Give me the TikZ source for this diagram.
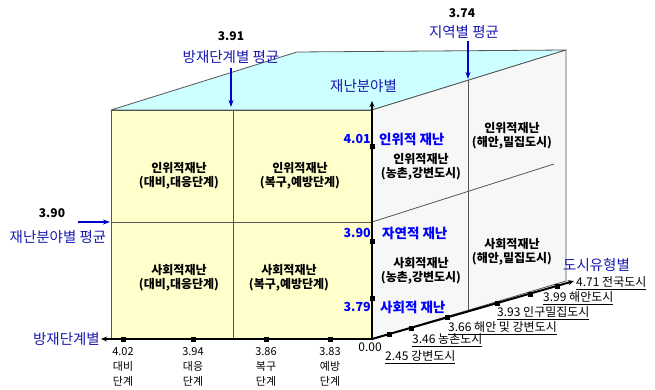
\documentclass[tikz,border=0pt]{standalone}
\usepackage{fontspec}
\setmainfont{Noto Sans CJK KR}
\usetikzlibrary{arrows.meta}
\definecolor{faceY}{HTML}{FFFFCC}
\definecolor{faceC}{HTML}{CCFFFF}
\definecolor{faceG}{HTML}{F7F7F7}
\definecolor{lblue}{HTML}{1A1AB0}
\definecolor{vblue}{HTML}{0000FF}
\definecolor{ablue}{HTML}{0000CC}
\definecolor{edgec}{HTML}{555555}
\tikzset{
  x=1pt, y=-1pt,
  face/.style={draw=edgec, line width=0.8pt, line join=round},
  grid/.style={draw=edgec, line width=0.8pt},
  axisline/.style={draw=black, line width=2pt, -{Stealth[length=6pt,width=5pt]}},
  avgarrow/.style={draw=ablue, line width=2pt, -{Stealth[length=7pt,width=5pt]}},
  marker/.style={fill=black, minimum size=5pt, inner sep=0pt, outer sep=0pt, rectangle},
  cell/.style={font=\bfseries\fontsize{12}{13.5}\selectfont, align=center, inner sep=0pt},
  bluetitle/.style={font=\fontsize{14.5}{16}\selectfont, text=lblue, inner sep=0pt},
  avgnum/.style={font=\bfseries\fontsize{12}{14}\selectfont, inner sep=0pt},
  fieldnum/.style={font=\bfseries\fontsize{12.5}{14}\selectfont, text=vblue, inner sep=0pt, anchor=east},
  fieldlbl/.style={font=\bfseries\fontsize{13.5}{15}\selectfont, text=vblue, inner sep=0pt, anchor=west},
  stagelbl/.style={font=\fontsize{11}{15}\selectfont, align=center, inner sep=0pt, anchor=north},
  citylbl/.style={font=\fontsize{12}{13}\selectfont, inner sep=0pt, anchor=west},
}
\begin{document}
\begin{tikzpicture}
\useasboundingbox (0,0) rectangle (655,390);
% corners
\coordinate (FTL) at (111,110);
\coordinate (FTR) at (372,110);
\coordinate (FBL) at (111,339);
\coordinate (FBR) at (372,339);
\coordinate (BTL) at (297,52);
\coordinate (BTR) at (566,50);
\coordinate (BBR) at (566,281);
% faces
\draw[face, fill=faceC] (FTL) -- (BTL) -- (BTR) -- (FTR) -- cycle;
\draw[face, fill=faceG] (FTR) -- (BTR) -- (BBR) -- (FBR) -- cycle;
\draw[face, fill=faceY] (FTL) rectangle (FBR);
% front grid
\coordinate (FMT) at (233,110);
\coordinate (FMB) at (233,339);
\coordinate (FML) at (111,222);
\coordinate (FMR) at (372,222);
\draw[grid] (FMT) -- (FMB);
\draw[grid] (FML) -- (FMR);
% right grid
\coordinate (RMT) at (468,80);
\coordinate (RMB) at (468,311);
\coordinate (RDE) at (554,164);
\draw[grid] (RMT) -- (RMB);
\draw[grid] (FMR) -- (RDE);
% axes
\coordinate (AXL) at (101,339);
\coordinate (AXU) at (372,101);
\coordinate (AXR) at (574,281);
\draw[axisline] (FBR) -- (AXL);
\draw[axisline] (FBR) -- (AXU);
\draw[axisline] (FBR) -- (AXR);
% bottom markers
\node[marker] (m1) at (123,339) {};
\node[marker] (m2) at (193,339) {};
\node[marker] (m3) at (266,339) {};
\node[marker] (m4) at (330,339) {};
% vertical markers
\node[marker] (v1) at (372,147) {};
\node[marker] (v2) at (372,241) {};
\node[marker] (v3) at (372,298) {};
% right markers
\node[marker] (r1) at (389,334.4) {};
\node[marker] (r2) at (411,328.1) {};
\node[marker] (r3) at (447,317.8) {};
\node[marker] (r4) at (497,303.5) {};
\node[marker] (r5) at (530,294.0) {};
\node[marker] (r6) at (557,286.3) {};
% front cell texts
\node[cell] (c1) at (179,176) {인위적재난\\(대비,대응단계)};
\node[cell] (c2) at (300,176) {인위적재난\\(복구,예방단계)};
\node[cell] (c3) at (179,278) {사회적재난\\(대비,대응단계)};
\node[cell] (c4) at (289,278) {사회적재난\\(복구,예방단계)};
% right cell texts
\node[cell] (c5) at (512,136) {인위적재난\\(해안,밀집도시)};
\node[cell] (c6) at (421,167) {인위적재난\\(농촌,강변도시)};
\node[cell] (c7) at (512,252) {사회적재난\\(해안,밀집도시)};
\node[cell] (c8) at (421,271) {사회적재난\\(농촌,강변도시)};
% averages
\node[avgnum] (n391) at (231,36) {3.91};
\node[bluetitle] (t391) at (231,57) {방재단계별 평균};
\coordinate (a391s) at (231,68);
\coordinate (a391e) at (231,107);
\draw[avgarrow] (a391s) -- (a391e);
\node[avgnum] (n374) at (462,13) {3.74};
\node[bluetitle] (t374) at (464,32) {지역별 평균};
\coordinate (a374s) at (468,41);
\coordinate (a374e) at (468,79);
\draw[avgarrow] (a374s) -- (a374e);
\node[avgnum] (n390) at (52,213) {3.90};
\node[bluetitle] (t390) at (58,237) {재난분야별 평균};
\coordinate (a390s) at (78,222);
\coordinate (a390e) at (110,222);
\draw[avgarrow] (a390s) -- (a390e);
% axis titles
\node[bluetitle, anchor=east] (ax1) at (100,339) {방재단계별};
\node[bluetitle, anchor=west] (ax2) at (330,86) {재난분야별};
\node[bluetitle, anchor=west] (ax3) at (563,265) {도시유형별};
% field labels
\node[fieldnum] (f1n) at (371,139) {4.01};
\node[fieldlbl] (f1t) at (379,139) {인위적 재난};
\node[fieldnum] (f2n) at (371,233) {3.90};
\node[fieldlbl] (f2t) at (382,233) {자연적 재난};
\node[fieldnum] (f3n) at (371,307) {3.79};
\node[fieldlbl] (f3t) at (380,307) {사회적 재난};
% stage labels
\node[stagelbl] (s1) at (123,347) {4.02\\대비\\단계};
\node[stagelbl] (s2) at (193,347) {3.94\\대응\\단계};
\node[stagelbl] (s3) at (266,347) {3.86\\복구\\단계};
\node[stagelbl] (s4) at (330,347) {3.83\\예방\\단계};
% city labels
\node[citylbl, anchor=center] (z0) at (370,347) {0.00};
\node[citylbl] (z1) at (385,357) {\underline{2.45 강변도시}};
\node[citylbl] (z2) at (412,340) {\underline{3.46 농촌도시}};
\node[citylbl] (z3) at (448,328) {\underline{3.66 해안 및 강변도시}};
\node[citylbl] (z4) at (497,313) {\underline{3.93 인구밀집도시}};
\node[citylbl] (z5) at (543,298) {\underline{3.99 해안도시}};
\node[citylbl] (z6) at (576,283) {\underline{4.71 전국도시}};
\end{tikzpicture}
\end{document}
